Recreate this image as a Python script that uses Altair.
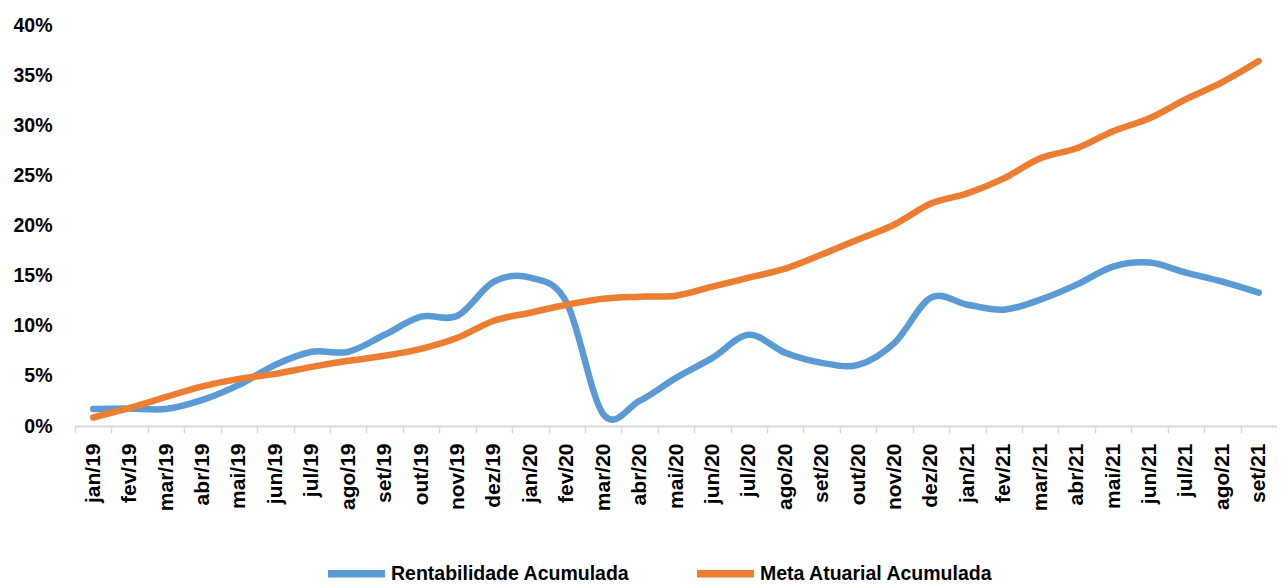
import altair as alt
import pandas as pd

months = [
    "jan/19", "fev/19", "mar/19", "abr/19", "mai/19", "jun/19", "jul/19", "ago/19",
    "set/19", "out/19", "nov/19", "dez/19",
    "jan/20", "fev/20", "mar/20", "abr/20", "mai/20", "jun/20", "jul/20", "ago/20",
    "set/20", "out/20", "nov/20", "dez/20",
    "jan/21", "fev/21", "mar/21", "abr/21", "mai/21", "jun/21", "jul/21", "ago/21", "set/21",
]
rentabilidade = [
    1.7, 1.75, 1.7, 2.6, 4.1, 6.1, 7.4, 7.4, 9.1, 10.9, 11.0, 14.4,
    14.8, 12.3, 1.2, 2.5, 4.8, 6.8, 9.1, 7.3, 6.3, 6.1, 8.3, 12.8,
    12.1, 11.6, 12.6, 14.1, 15.9, 16.3, 15.3, 14.4, 13.3,
]
meta = [
    0.85, 1.8, 2.9, 3.95, 4.7, 5.2, 5.9, 6.5, 7.0, 7.7, 8.8, 10.5,
    11.3, 12.1, 12.7, 12.9, 13.0, 13.9, 14.8, 15.7, 17.1, 18.6, 20.1, 22.2,
    23.2, 24.7, 26.7, 27.7, 29.4, 30.7, 32.6, 34.3, 36.4,
]
series_names = ["Rentabilidade Acumulada", "Meta Atuarial Acumulada"]
colors = ["#5B9BD5", "#ED7D31"]
y_ticks = [0, 5, 10, 15, 20, 25, 30, 35, 40]

rows = []
for name, vals in zip(series_names, [rentabilidade, meta]):
    for i, (m, v) in enumerate(zip(months, vals)):
        rows.append({"mes": m, "valor": v, "serie": name, "ordem": i})
df = pd.DataFrame(rows)

FONT = "Liberation Sans"

chart = alt.Chart(df).mark_line(
    interpolate="cardinal", tension=0, strokeWidth=6.5,
    strokeCap="round", strokeJoin="round",
).encode(
    x=alt.X(
        "mes:N", sort=months, bandPosition=0.5,
        scale=alt.Scale(type="band", paddingInner=0, paddingOuter=0),
        axis=alt.Axis(
            title=None, labelAngle=-90, labelFont=FONT, labelFontWeight="bold",
            labelFontSize=21, labelColor="#000000", labelPadding=10,
            domainColor="#D9D9D9", domainWidth=2, tickColor="#D9D9D9",
            tickWidth=1.5, tickSize=7, tickBand="extent", grid=False,
        ),
    ),
    y=alt.Y(
        "valor:Q", scale=alt.Scale(domain=[0, 40], nice=False),
        axis=alt.Axis(
            title=None, values=y_ticks, labelExpr="datum.value + '%'",
            domain=False, ticks=False, tickSize=0, grid=False, labelPadding=23,
            labelFont=FONT, labelFontWeight="bold", labelFontSize=19.5,
            labelColor="#000000",
        ),
    ),
    color=alt.Color(
        "serie:N", sort=series_names,
        scale=alt.Scale(domain=series_names, range=colors),
        legend=alt.Legend(
            title=None, orient="none", direction="horizontal",
            legendX=249, legendY=516, symbolType="stroke", symbolSize=3249,
            symbolStrokeWidth=7.5, labelFont=FONT, labelFontWeight="bold",
            labelFontSize=19.5, labelColor="#000000", labelLimit=500,
            columnPadding=52, labelOffset=2,
        ),
    ),
    order=alt.Order("ordem:Q"),
).properties(
    width=1202, height=401,
    autosize=alt.AutoSizeParams(type="none"),
    padding={"left": 67, "top": 17, "right": 0, "bottom": 159},
    background="#FFFFFF",
).configure_view(stroke=None)

chart.save("out.html", embed_options={"renderer": "svg", "actions": False})
